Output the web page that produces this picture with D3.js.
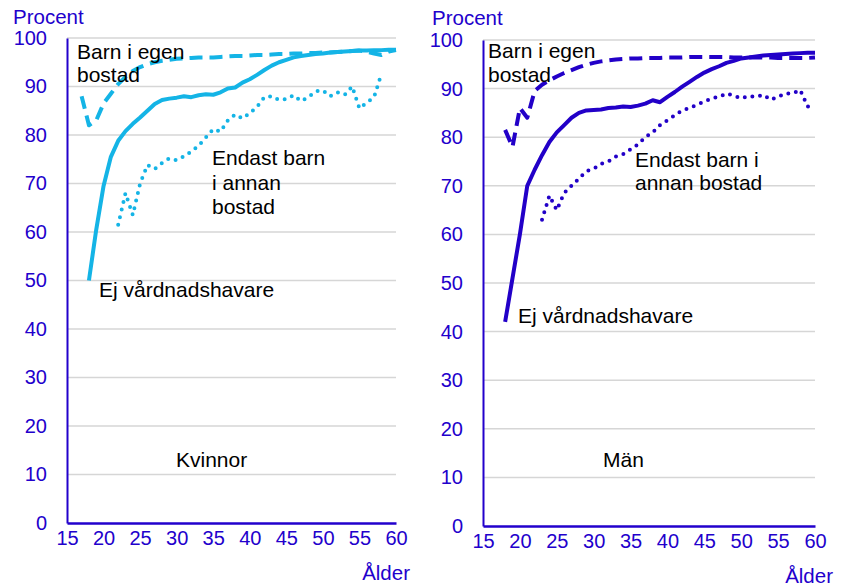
<!DOCTYPE html>
<html>
<head>
<meta charset="utf-8">
<script src="https://cdn.jsdelivr.net/npm/d3@7"></script>
<style>
  html, body { margin: 0; padding: 0; background: #fff; }
  svg { display: block; }
  text { font-family: "Liberation Sans", Arial, sans-serif; }
</style>
</head>
<body>
<svg id="chart" width="841" height="586"></svg>
<script>
// ---------- DATA ----------
const ages = [15,16,17,18,19,20,21,22,23,24,25,26,27,28,29,30,31,32,33,34,35,36,37,38,39,40,
              41,42,43,44,45,46,47,48,49,50,51,52,53,54,55,56,57,58,59,60];
const xTicks = [15,20,25,30,35,40,45,50,55,60];
const yTicks = [0,10,20,30,40,50,60,70,80,90,100];

// Kvinnor (women)
const kvinnorEj = [null,null,null,50,60.5,69.5,75.5,78.8,80.8,82.3,83.6,85,86.4,87.2,87.5,87.7,88,87.8,88.2,88.4,88.3,88.8,89.6,89.8,90.8,91.5,
                   92.4,93.4,94.3,95,95.5,96,96.3,96.5,96.7,96.8,97,97.1,97.2,97.3,97.4,97.4,97.5,97.5,97.6,97.6];
const kvinnorEgen = [null,null,88,82,83,86.5,88.5,90.5,92,93.2,94,94.6,95,95.3,95.5,95.7,95.8,95.9,96,96,96,96.1,96.2,96.3,96.3,96.4,
                     96.5,96.5,96.6,96.7,96.7,96.8,96.8,96.9,96.9,97,97,97.1,97.2,97.3,97.4,97.2,96.8,96.5,97.2,97.5];
const kvinnorAnnan = [null,null,null,null,null,null,null,61.5,68,63.5,70,73.8,73,74.2,75.2,74.8,75.6,76.6,77.8,79.5,81.2,80.7,83,84.2,83.4,84.5,
                      85.8,87.8,88,87.2,87.4,88.2,87,87.8,89,89.2,88,88.8,88.3,90,85.5,86.7,87.8,92.6,null,null];

// Män (men)
const manEj = [null,null,null,42,51,60,70,73.3,76.3,79,81,82.5,84,85,85.5,85.6,85.7,86,86.1,86.3,86.2,86.5,86.9,87.6,87.2,88.3,
               89.3,90.4,91.4,92.4,93.3,94,94.6,95.3,95.7,96.2,96.4,96.6,96.8,96.9,97,97.1,97.2,97.3,97.4,97.4];
const manEgen = [null,null,null,81.5,78,86,84,89.5,90.8,91.7,92.5,93.2,93.8,94.4,94.9,95.3,95.6,95.8,96,96.1,96.2,96.2,96.3,96.3,96.3,96.4,
                 96.4,96.4,96.5,96.5,96.5,96.5,96.5,96.5,96.4,96.4,96.4,96.4,96.4,96.4,96.3,96.3,96.3,96.3,96.3,96.4];
const manAnnan = [null,null,null,null,null,null,null,null,63,68,65,68.5,70,71.5,73,73.5,74.5,75,76,76.5,77.5,78.5,80,81,82.5,83.5,
                  84.5,85.5,86,86.7,87.3,88,88.3,89,88.5,88,88.5,88.3,88.7,87.7,88.3,89,89,89.7,86.3,87];

// ---------- DRAW ----------
const svg = d3.select("#chart");
const tickColor = "#2200cc";

const panels = [
  {
    color: "#14b4e6",
    xr: [67, 396], yr: [523, 38],
    ej: kvinnorEj, egen: kvinnorEgen, annan: kvinnorAnnan,
    procent: [13, 24], alder: [410, 580],
    labels: [
      {x: 77, y: 59, lines: ["Barn i egen", "bostad"], lh: 23},
      {x: 212, y: 165, lines: ["Endast barn", "i annan", "bostad"], lh: 24.5},
      {x: 99, y: 297, lines: ["Ej vårdnadshavare"], lh: 23},
      {x: 176, y: 467, lines: ["Kvinnor"], lh: 23}
    ]
  },
  {
    color: "#2200c8",
    xr: [483, 815], yr: [526, 40],
    ej: manEj, egen: manEgen, annan: manAnnan,
    procent: [432, 25], alder: [833, 583],
    labels: [
      {x: 488, y: 58, lines: ["Barn i egen", "bostad"], lh: 23.5},
      {x: 635, y: 166.5, lines: ["Endast barn i", "annan bostad"], lh: 23.5},
      {x: 518, y: 323, lines: ["Ej vårdnadshavare"], lh: 23},
      {x: 603, y: 467, lines: ["Män"], lh: 23}
    ]
  }
];

panels.forEach(p => {
  const x = d3.scaleLinear().domain([15, 60]).range(p.xr);
  const y = d3.scaleLinear().domain([0, 100]).range(p.yr);
  const g = svg.append("g");

  // gridlines
  g.append("g").selectAll("line").data(yTicks.filter(t => t > 0)).join("line")
    .attr("x1", p.xr[0]).attr("x2", p.xr[1])
    .attr("y1", d => y(d)).attr("y2", d => y(d))
    .attr("stroke", "#d6d6d6").attr("stroke-width", 1.5);

  // y axis
  const yAxis = d3.axisLeft(y).tickValues(yTicks).tickSize(0).tickPadding(20);
  const ya = g.append("g").attr("transform", `translate(${p.xr[0]},0)`).call(yAxis);
  ya.select(".domain").attr("stroke", tickColor).attr("stroke-width", 2);
  ya.selectAll("text").attr("fill", tickColor).attr("font-size", 20)
    .attr("font-family", "Liberation Sans, Arial, sans-serif");

  // x axis
  const xAxis = d3.axisBottom(x).tickValues(xTicks).tickSize(0).tickPadding(8);
  const xa = g.append("g").attr("transform", `translate(0,${p.yr[0]})`).call(xAxis);
  xa.select(".domain").attr("stroke", tickColor).attr("stroke-width", 2.5);
  xa.selectAll("text").attr("fill", tickColor).attr("font-size", 20)
    .attr("font-family", "Liberation Sans, Arial, sans-serif");

  // titles
  g.append("text").attr("x", p.procent[0]).attr("y", p.procent[1])
    .attr("fill", tickColor).attr("font-size", 20.5).text("Procent");
  g.append("text").attr("x", p.alder[0]).attr("y", p.alder[1])
    .attr("text-anchor", "end").attr("fill", tickColor).attr("font-size", 20.5).text("Ålder");

  const line = d3.line()
    .defined(d => d[1] !== null)
    .x(d => x(d[0])).y(d => y(d[1]));
  const pts = arr => ages.map((a, i) => [a, arr[i]]);

  // dotted
  g.append("path").datum(pts(p.annan)).attr("d", line)
    .attr("fill", "none").attr("stroke", p.color).attr("stroke-width", 4)
    .attr("stroke-linecap", "round").attr("stroke-dasharray", "0,7.8");
  // dashed
  g.append("path").datum(pts(p.egen)).attr("d", line)
    .attr("fill", "none").attr("stroke", p.color).attr("stroke-width", 4)
    .attr("stroke-linejoin", "round").attr("stroke-dasharray", "13,7");
  // solid
  g.append("path").datum(pts(p.ej)).attr("d", line)
    .attr("fill", "none").attr("stroke", p.color).attr("stroke-width", 4)
    .attr("stroke-linejoin", "round");

  // labels
  p.labels.forEach(l => {
    const t = g.append("text").attr("x", l.x).attr("y", l.y)
      .attr("fill", "#000").attr("font-size", 21);
    l.lines.forEach((s, i) => {
      t.append("tspan").attr("x", l.x).attr("y", l.y + i * l.lh).text(s);
    });
  });
});
</script>
</body>
</html>
